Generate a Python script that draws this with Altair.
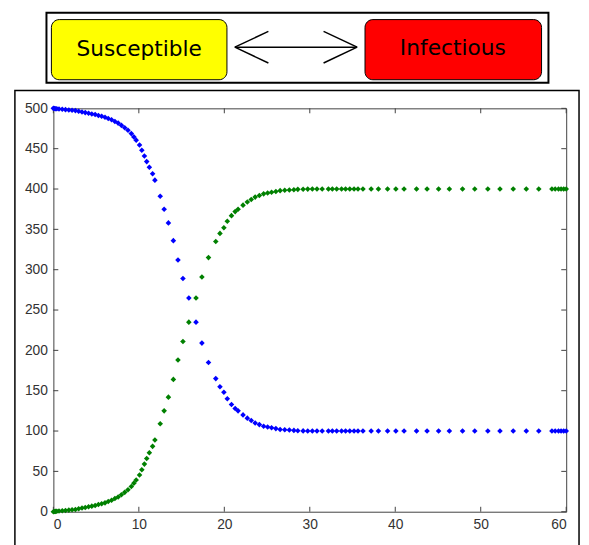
import altair as alt
import pandas as pd

# ---- data ----
t = [0, 0.12, 0.25, 0.4, 0.66, 1.04, 1.42, 1.81, 2.19, 2.58,
     2.96, 3.35, 3.73, 4.12, 4.5, 4.89, 5.27, 5.65, 6.04, 6.42,
     6.81, 7.2, 7.58, 7.96, 8.35, 8.73, 9.12, 9.42, 9.69, 10.08,
     10.35, 10.65, 10.92, 11.23, 11.61, 11.88, 12.5, 12.96, 13.46, 14.04,
     14.58, 15.16, 15.85, 16.69, 17.38, 18.15, 19.0, 19.49, 19.95, 20.35,
     20.84, 21.27, 21.61, 22.19, 22.69, 23.15, 23.61, 24.1, 24.6, 25.07,
     25.53, 26.03, 26.53, 27.07, 27.61, 28.14, 28.6, 29.22, 29.76, 30.3,
     30.84, 31.45, 32.18, 32.64, 33.15, 33.72, 34.19, 34.68, 35.18, 35.64,
     36.22, 37.18, 38.03, 39.1, 40.07, 41.03, 42.49, 43.72, 45.07, 46.33,
     47.87, 49.3, 50.83, 52.25, 53.8, 55.33, 56.79, 58.33, 58.71, 59.1,
     59.4, 59.71, 60]

infectious = [0, 0.2, 0.4, 0.6, 0.8, 1.2, 1.6, 2.0, 2.4, 2.8,
              3.7, 4.5, 5.3, 6.1, 6.9, 7.7, 8.9, 9.8, 11.0, 12.6,
              14.2, 16.3, 18.3, 21.1, 24.0, 27.2, 31.3, 35.4, 39.4, 45.5,
              52, 59, 66, 73, 81, 89, 109, 125, 142, 164,
              188, 211, 235, 265, 291, 315, 335, 345, 352, 360,
              367, 372, 375, 380, 384, 387, 390, 392, 394, 395,
              396, 397, 398, 398.4, 398.8, 399.2, 399.6, 399.8, 399.9, 400,
              400, 400, 400, 400, 400, 400, 400, 400, 400, 400,
              400, 400, 400, 400, 400, 400, 400, 400, 400, 400,
              400, 400, 400, 400, 400, 400, 400, 400, 400, 400,
              400, 400, 400]

susceptible = [500, 499.8, 499.6, 499.4, 499.2, 498.8, 498.4, 498.0, 497.6, 497.2,
               496.3, 495.5, 494.7, 493.9, 493.1, 492.3, 491.1, 490.2, 489.0, 487.4,
               485.8, 483.7, 481.7, 478.9, 476.0, 472.8, 468.7, 464.6, 460.6, 454.5,
               448, 441, 434, 427, 419, 411, 391, 375, 358, 336,
               312, 289, 265, 235, 209, 185, 165, 155, 148, 140,
               133, 128, 125, 120, 116, 113, 110, 108, 106, 105,
               104, 103, 102, 101.6, 101.2, 100.8, 100.4, 100.2, 100.1, 100,
               100, 100, 100, 100, 100, 100, 100, 100, 100, 100,
               100, 100, 100, 100, 100, 100, 100, 100, 100, 100,
               100, 100, 100, 100, 100, 100, 100, 100, 100, 100,
               100, 100, 100]

x_ticks = [0, 10, 20, 30, 40, 50, 60]
y_ticks = [0, 50, 100, 150, 200, 250, 300, 350, 400, 450, 500]
series_names = ["Susceptible", "Infectious"]
series_colors = ["#0000FF", "#008000"]
box_labels = ["Susceptible", "Infectious"]
box_fills = ["#FFFF00", "#FF0000"]

W, H = 520, 409

df = pd.concat([
    pd.DataFrame({"t": t, "value": susceptible, "series": "Susceptible"}),
    pd.DataFrame({"t": t, "value": infectious, "series": "Infectious"}),
], ignore_index=True)

xscale = alt.Scale(domain=[0, 60], nice=False, zero=False)
yscale = alt.Scale(domain=[0, 500], nice=False)

axis_common = dict(grid=False, domain=False, ticks=False, labelFontSize=14,
                   labelColor="#333333", labelFont="Liberation Sans", title=None)
xaxis = alt.Axis(values=x_ticks, labelPadding=6, **axis_common)
yaxis = alt.Axis(values=y_ticks, labelPadding=6, **axis_common)

points = alt.Chart(df).mark_point(shape="diamond", filled=True, size=32, opacity=1).encode(
    x=alt.X("t:Q", scale=xscale, axis=xaxis),
    y=alt.Y("value:Q", scale=yscale, axis=yaxis),
    color=alt.Color("series:N", scale=alt.Scale(domain=series_names, range=series_colors), legend=None),
)

xt = pd.DataFrame({"v": x_ticks})
yt = pd.DataFrame({"v": y_ticks})
tick_color = "#404040"
bottom_ticks = alt.Chart(xt).mark_rule(color=tick_color).encode(
    x=alt.X("v:Q", scale=xscale, axis=xaxis), y=alt.value(H), y2=alt.value(H - 5))
top_ticks = alt.Chart(xt).mark_rule(color=tick_color).encode(
    x=alt.X("v:Q", scale=xscale, axis=xaxis), y=alt.value(0), y2=alt.value(5))
left_ticks = alt.Chart(yt).mark_rule(color=tick_color).encode(
    y=alt.Y("v:Q", scale=yscale, axis=yaxis), x=alt.value(0), x2=alt.value(5))
right_ticks = alt.Chart(yt).mark_rule(color=tick_color).encode(
    y=alt.Y("v:Q", scale=yscale, axis=yaxis), x=alt.value(W), x2=alt.value(W - 5))

one = pd.DataFrame({"a": [0]})

# figure frame
frame = alt.Chart(one).mark_rect(fill=None, stroke="black", strokeWidth=1.5).encode(
    x=alt.value(-39), x2=alt.value(533), y=alt.value(-18), y2=alt.value(445))

# diagram
outer = alt.Chart(one).mark_rect(fill="white", stroke="black", strokeWidth=2).encode(
    x=alt.value(-7), x2=alt.value(502), y=alt.value(-97), y2=alt.value(-26))
ybox = alt.Chart(one).mark_rect(fill=box_fills[0], stroke="black", strokeWidth=1, cornerRadius=8).encode(
    x=alt.value(-2), x2=alt.value(176), y=alt.value(-90), y2=alt.value(-29))
rbox = alt.Chart(one).mark_rect(fill=box_fills[1], stroke="black", strokeWidth=1, cornerRadius=8).encode(
    x=alt.value(316), x2=alt.value(495), y=alt.value(-90), y2=alt.value(-29))
ytext = alt.Chart(one).mark_text(fontSize=22, font="DejaVu Sans", color="black",
                                 align="center", baseline="middle").encode(
    x=alt.value(87), y=alt.value(-60), text=alt.value(box_labels[0]))
rtext = alt.Chart(one).mark_text(fontSize=22, font="DejaVu Sans", color="black",
                                 align="center", baseline="middle").encode(
    x=alt.value(405), y=alt.value(-61), text=alt.value(box_labels[1]))

ay = -62
shaft = alt.Chart(one).mark_rule(color="black", strokeWidth=1.5).encode(
    x=alt.value(184), x2=alt.value(308), y=alt.value(ay))
head_parts = []
for (x1, y1, x2, y2) in [(184, ay, 218, ay - 16), (184, ay, 218, ay + 16),
                         (308, ay, 274, ay - 16), (308, ay, 274, ay + 16)]:
    head_parts.append(alt.Chart(one).mark_rule(color="black", strokeWidth=1.5).encode(
        x=alt.value(x1), x2=alt.value(x2), y=alt.value(y1), y2=alt.value(y2)))

chart = alt.layer(
    frame, outer, ybox, rbox, ytext, rtext, shaft, *head_parts,
    bottom_ticks, top_ticks, left_ticks, right_ticks, points,
).properties(
    width=W, height=H,
    background="white",
    autosize=alt.AutoSizeParams(type="none"),
    padding={"left": 46, "top": 98, "right": 15, "bottom": 30},
).configure_view(stroke="#404040", strokeWidth=1)

chart.save("out.html", embed_options={"renderer": "svg", "actions": False})
